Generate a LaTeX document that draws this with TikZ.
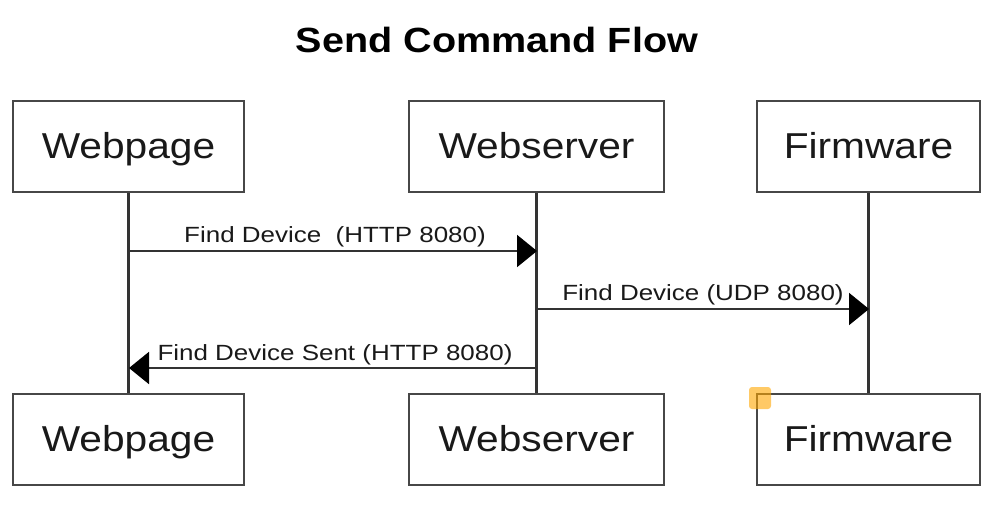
\documentclass[tikz,border=0pt]{standalone}
\usepackage{fontspec}
\setmainfont[FakeStretch=1.13]{Liberation Sans}
\newfontfamily\lblfont[FakeStretch=1.18]{Liberation Sans}
\usetikzlibrary{arrows.meta}
\begin{document}
\begin{tikzpicture}[x=1pt,y=-1pt,
  actor/.style={draw=black!72,line width=2pt,fill=white,minimum width=#1,minimum height=91pt,inner sep=0pt,text height=23pt,text depth=0pt,font=\fontsize{36}{40}\selectfont,text=black!90},
  life/.style={draw=black!80,line width=2.2pt},
  msg/.style={draw=black!80,line width=2pt,-{Triangle[length=20pt,width=32pt,color=black]}},
  lbl/.style={font=\lblfont\fontsize{22}{26}\selectfont,inner sep=0pt,anchor=base,text=black!90}]
\useasboundingbox (0,0) rectangle (1008,528);
\node[font=\bfseries\fontsize{35}{40}\selectfont,anchor=base,inner sep=0pt] (title) at (497,52) {Send Command Flow};
\node[actor=231pt] (wt) at (128.5,146.5) {Webpage};
\node[actor=255pt] (st) at (536.5,146.5) {Webserver};
\node[actor=223pt] (ft) at (868.5,146.5) {Firmware};
\node[actor=231pt] (wb) at (128.5,439.5) {Webpage};
\node[actor=255pt] (sb) at (536.5,439.5) {Webserver};
\node[actor=223pt] (fb) at (868.5,439.5) {Firmware};
\draw[life] (wt.south) -- (wb.north);
\draw[life] (st.south) -- (sb.north);
\draw[life] (ft.south) -- (fb.north);
\coordinate (w1) at (129,251); \coordinate (s1) at (537,251);
\coordinate (s2) at (537,309); \coordinate (f2) at (869,309);
\coordinate (s3) at (537,368); \coordinate (w3) at (129,368);
\draw[msg] (w1) -- (s1);
\draw[msg] (s2) -- (f2);
\draw[msg] (s3) -- (w3);
\node[lbl] (l1) at (335,242) {Find Device \ (HTTP 8080)};
\node[lbl] (l2) at (703,300) {Find Device (UDP 8080)};
\node[lbl] (l3) at (335,360) {Find Device Sent (HTTP 8080)};
\node[fill=orange!70!yellow,opacity=0.6,rounded corners=3pt,minimum size=22pt,inner sep=0pt] (h) at (760,398) {};
\end{tikzpicture}
\end{document}
